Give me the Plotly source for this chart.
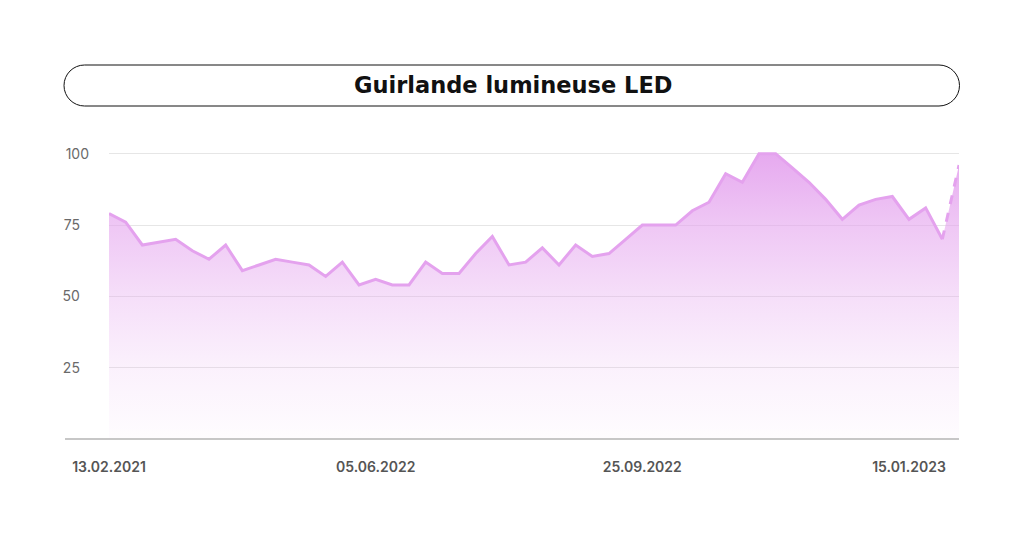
import plotly.graph_objects as go

# ---- data ----
title_text = "Guirlande lumineuse LED"
weeks = [
    "2022-02-13", "2022-02-20", "2022-02-27", "2022-03-06", "2022-03-13", "2022-03-20",
    "2022-03-27", "2022-04-03", "2022-04-10", "2022-04-17", "2022-04-24", "2022-05-01",
    "2022-05-08", "2022-05-15", "2022-05-22", "2022-05-29", "2022-06-05", "2022-06-12",
    "2022-06-19", "2022-06-26", "2022-07-03", "2022-07-10", "2022-07-17", "2022-07-24",
    "2022-07-31", "2022-08-07", "2022-08-14", "2022-08-21", "2022-08-28", "2022-09-04",
    "2022-09-11", "2022-09-18", "2022-09-25", "2022-10-02", "2022-10-09", "2022-10-16",
    "2022-10-23", "2022-10-30", "2022-11-06", "2022-11-13", "2022-11-20", "2022-11-27",
    "2022-12-04", "2022-12-11", "2022-12-18", "2022-12-25", "2023-01-01", "2023-01-08",
    "2023-01-15", "2023-01-22", "2023-01-29", "2023-02-05",
]
interest = [
    79, 76, 68, 69, 70, 66, 63, 68, 59, 61, 63, 62,
    61, 57, 62, 54, 56, 54, 54, 62, 58, 58, 65, 71,
    61, 62, 67, 61, 68, 64, 65, 70, 75, 75, 75, 80,
    83, 93, 90, 100, 100, 95, 90, 84, 77, 82, 84, 85,
    77, 81, 70, 96,
]
x_tick_dates = ["2022-02-13", "2022-06-05", "2022-09-25", "2023-01-15"]
x_tick_labels = ["13.02.2021", "05.06.2022", "25.09.2022", "15.01.2023"]
y_tick_vals = [25, 50, 75, 100]
y_tick_labels = ["25\u2007", "50\u2007", "75\u2007", "100"]

LINE = "rgb(228,162,238)"
W, H = 1024, 538
ML, MR, MT, MB = 109, 65, 148, 99
PW, PH = W - ML - MR, H - MT - MB


def px_x(px):
    return (px - ML) / PW


def px_y(py):
    return (H - MB - py) / PH


fig = go.Figure()

# gradient area (all weeks)
fig.add_trace(go.Scatter(
    x=weeks, y=interest, mode="lines", line=dict(width=0, color=LINE),
    fill="tozeroy",
    fillgradient=dict(
        type="vertical", start=0, stop=100,
        colorscale=[
            [0.0, "rgba(228,162,238,0.03)"],
            [0.25, "rgba(228,162,238,0.15)"],
            [0.5, "rgba(228,162,238,0.35)"],
            [0.75, "rgba(228,162,238,0.60)"],
            [1.0, "rgba(228,162,238,0.92)"],
        ],
    ),
    hoverinfo="skip", showlegend=False, cliponaxis=False,
))
# solid line (complete weeks)
fig.add_trace(go.Scatter(
    x=weeks[:-1], y=interest[:-1], mode="lines",
    line=dict(width=3, color=LINE), showlegend=False, cliponaxis=False,
))
# dashed last (partial) segment
fig.add_trace(go.Scatter(
    x=weeks[-2:], y=interest[-2:], mode="lines",
    line=dict(width=3, color=LINE, dash="dash"), showlegend=False, cliponaxis=False,
))

# title box (rounded pill)
L, R = px_x(64), px_x(959.5)
T, B = px_y(65), px_y(106)
rx = 20.5 / PW
ry = 20.5 / PH
k = 0.5523
path = (
    f"M {L+rx},{T} L {R-rx},{T} "
    f"C {R-rx+k*rx},{T} {R},{T-ry+k*ry} {R},{T-ry} "
    f"C {R},{B+ry-k*ry} {R-rx+k*rx},{B} {R-rx},{B} "
    f"L {L+rx},{B} "
    f"C {L+rx-k*rx},{B} {L},{B+ry-k*ry} {L},{B+ry} "
    f"C {L},{T-ry+k*ry} {L+rx-k*rx},{T} {L+rx},{T} Z"
)
fig.add_shape(type="path", xref="paper", yref="paper", path=path,
              line=dict(color="#111111", width=1), fillcolor="white", layer="above")
# bottom axis line
fig.add_shape(type="line", xref="paper", yref="paper", x0=px_x(65), x1=1, y0=0, y1=0,
              line=dict(color="#8f8f8f", width=1.2), layer="above")

fig.add_annotation(
    text=f"<b>{title_text}</b>", xref="paper", yref="paper",
    x=px_x(512.5), y=(T + B) / 2, xanchor="center", yanchor="middle", showarrow=False,
    font=dict(family="DejaVu Sans", size=22.5, color="#111111"),
)

fig.update_layout(
    width=W, height=H,
    margin=dict(l=ML, r=MR, t=MT, b=MB),
    paper_bgcolor="white", plot_bgcolor="white",
    font=dict(family="Inter", color="#5a5a5a"),
    xaxis=dict(
        type="date", range=[weeks[0], weeks[-1]],
        tickvals=x_tick_dates, ticktext=x_tick_labels,
        showgrid=False, zeroline=False, showline=False, ticks="",
        ticklabelstandoff=18,
        tickfont=dict(family="Inter", size=14, color="#555555", weight=600),
    ),
    yaxis=dict(
        range=[0, 102], tickvals=y_tick_vals, ticktext=y_tick_labels,
        showgrid=True, gridcolor="#e6e6e6", gridwidth=1,
        zeroline=False, showline=False, ticks="",
        ticklabelstandoff=19,
        tickfont=dict(family="Inter", size=14, color="#6a6a6a"),
    ),
)

fig.write_html("out.html", config={"displayModeBar": False},
               post_script="document.body.style.margin='0';")
